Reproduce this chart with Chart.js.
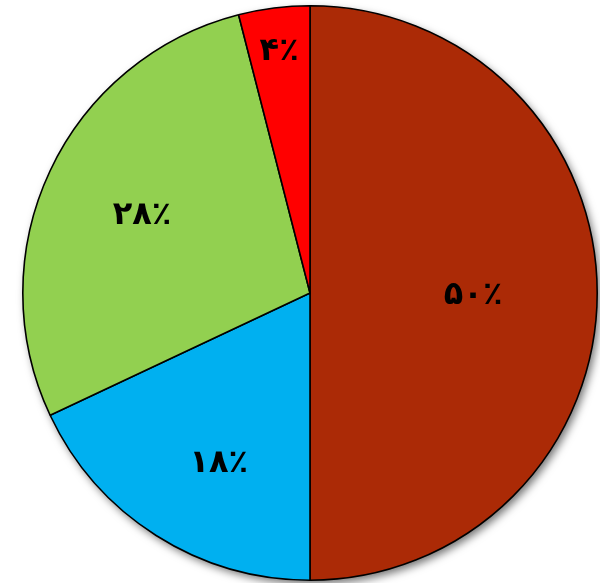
<!DOCTYPE html>
<html lang="fa">
<head>
    <meta charset="UTF-8">
    <title>نمودار دایره‌ای</title>
    <script src="https://cdn.jsdelivr.net/npm/chart.js"></script>
    <style>
        html, body {
            margin: 0;
            padding: 0;
            background: #ffffff;
        }
        .wrap {
            width: 600px;
            height: 583px;
        }
    </style>
</head>
<body>
    <div class="wrap">
        <canvas id="chart" width="600" height="583"></canvas>
    </div>

    <script>
        // داده‌ها
        const labels = ['الف', 'ب', 'ج', 'د'];
        const values = [50, 18, 28, 4];
        const valueLabels = ['۵۰٪', '۱۸٪', '۲۸٪', '۴٪'];
        const colors = ['#AB2A06', '#00B0F0', '#92D050', '#FF0000'];

        // جای برچسب: فاصله از مرکز (نسبت به شعاع) و جابه‌جایی زاویه (درجه)
        const labelRadius = [0.568, 0.664, 0.648, 0.857];
        const labelShift = [0, -3.8, 0.3, 0];

        // سایه زیر دایره
        const pieShadow = {
            id: 'pieShadow',
            beforeDatasetsDraw(chart) {
                const arc = chart.getDatasetMeta(0).data[0];
                if (!arc) return;
                const ctx = chart.ctx;
                ctx.save();
                ctx.shadowColor = 'rgba(0, 0, 0, 0.55)';
                ctx.shadowBlur = 8;
                ctx.shadowOffsetX = 3;
                ctx.shadowOffsetY = 4;
                ctx.fillStyle = '#ffffff';
                ctx.beginPath();
                ctx.arc(arc.x, arc.y, arc.outerRadius, 0, Math.PI * 2);
                ctx.fill();
                ctx.restore();
            }
        };

        // برچسب درصدها روی برش‌ها
        const sliceLabels = {
            id: 'sliceLabels',
            afterDatasetsDraw(chart) {
                const ctx = chart.ctx;
                const meta = chart.getDatasetMeta(0);
                ctx.save();
                ctx.fillStyle = '#000000';
                ctx.font = 'bold 32px "DejaVu Sans", sans-serif';
                ctx.textAlign = 'center';
                ctx.textBaseline = 'middle';
                meta.data.forEach((arc, i) => {
                    const mid = (arc.startAngle + arc.endAngle) / 2 + labelShift[i] * Math.PI / 180;
                    const r = arc.outerRadius * labelRadius[i];
                    // ارقام فارسی کمی بالاتر از وسط می‌نشینند
                    ctx.fillText(valueLabels[i], arc.x + Math.cos(mid) * r, arc.y + Math.sin(mid) * r + 3);
                });
                ctx.restore();
            }
        };

        new Chart(document.getElementById('chart'), {
            type: 'pie',
            data: {
                labels: labels,
                datasets: [{
                    data: values,
                    backgroundColor: colors,
                    borderColor: '#000000',
                    borderWidth: 1.6
                }]
            },
            options: {
                responsive: false,
                animation: false,
                layout: {
                    padding: { left: 22, right: 2, top: 5, bottom: 2 }
                },
                plugins: {
                    legend: { display: false },
                    tooltip: { enabled: false }
                }
            },
            plugins: [pieShadow, sliceLabels]
        });
    </script>
</body>
</html>
